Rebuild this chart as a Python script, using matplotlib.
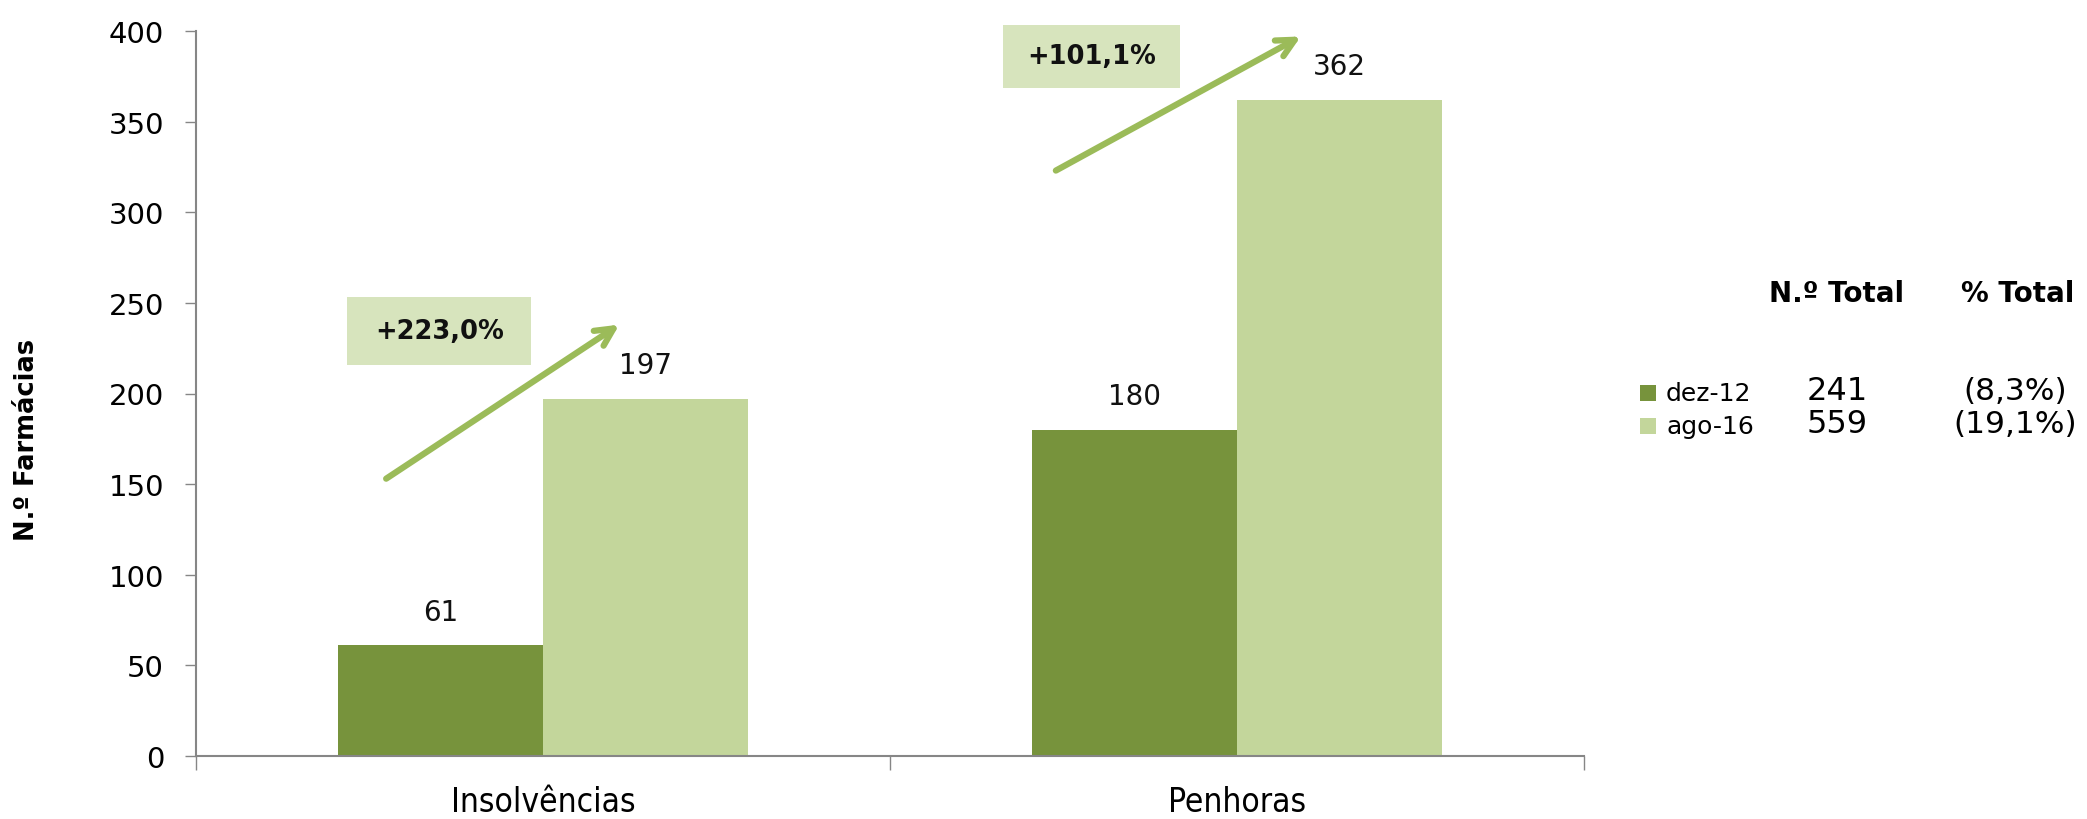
import matplotlib
matplotlib.use("Agg")
import matplotlib.pyplot as plt
from matplotlib.patches import Rectangle
import numpy as np

categories = ['Insolvências', 'Penhoras']
series_labels = ['dez-12', 'ago-16']
dez12 = [61, 180]
ago16 = [197, 362]
totals = [241, 559]
pct_totals = ['(8,3%)', '(19,1%)']
growth = ['+223,0%', '+101,1%']
yticks = [0, 50, 100, 150, 200, 250, 300, 350, 400]

c_dark = '#77933C'
c_light = '#C3D69B'
c_box = '#D7E4BD'
c_arrow = '#9BBB59'
c_axis = '#868686'

W, H = 2087, 820
fig = plt.figure(figsize=(W / 100, H / 100), dpi=100)
ax = fig.add_axes([196 / W, 63 / H, 1388 / W, 725 / H])

x = np.arange(len(categories))
bw = 0.295
b1 = ax.bar(x - bw / 2, dez12, bw, color=c_dark)
b2 = ax.bar(x + bw / 2, ago16, bw, color=c_light)

for bars, vals in ((b1, dez12), (b2, ago16)):
    for r, v in zip(bars, vals):
        ax.annotate(str(v), (r.get_x() + r.get_width() / 2, v), xytext=(0, 14),
                    textcoords='offset points', ha='center', va='bottom',
                    fontsize=20, color='#111111')

ax.set_xlim(-0.5, 1.5)
ax.set_ylim(0, 400)
ax.set_yticks(yticks)
ax.set_yticklabels([str(t) for t in yticks], fontsize=21)
ax.tick_params(axis='y', direction='out', length=8, width=1, color=c_axis, pad=15)
ax.set_xticks([-0.5, 0.5, 1.5])
ax.set_xticklabels([])
ax.tick_params(axis='x', direction='out', length=10, width=1, color=c_axis)
for i, c in enumerate(categories):
    fig.text((196 + 1388 * (i + 0.5) / 2) / W, 1 - 803 / H, c, ha='center', va='center',
             fontsize=24, family=['Liberation Sans Narrow', 'DejaVu Sans'], fontstretch='condensed')
for s in ('top', 'right'):
    ax.spines[s].set_visible(False)
for s in ('left', 'bottom'):
    ax.spines[s].set_color(c_axis)
    ax.spines[s].set_linewidth(1.5)

fig.text(27 / W, 1 - 440 / H, 'N.º Farmácias', rotation=90, ha='center', va='center',
         fontsize=18.5, fontweight='bold', family=['Liberation Sans Narrow', 'DejaVu Sans'])

# growth arrows and boxes
arrows = [((-0.226, 153), (0.110, 238)), ((0.739, 323), (1.092, 397))]
boxes = [(-0.282, 215.7, 0.265, 37.5), (0.663, 368.6, 0.255, 34.7)]
for (s, e), (bx, by, bwid, bh), g in zip(arrows, boxes, growth):
    ax.annotate('', xy=e, xytext=s, annotation_clip=False,
                arrowprops=dict(arrowstyle='->', lw=4.5, color=c_arrow, mutation_scale=32,
                                shrinkA=0, shrinkB=0))
    ax.add_patch(Rectangle((bx, by), bwid, bh, facecolor=c_box, edgecolor='none', clip_on=False))
    ax.text(bx + bwid / 2, by + bh / 2, g, ha='center', va='center', fontsize=18.5,
            fontweight='bold', color='#111111')

# legend-like table
fig.text(1837 / W, 1 - 294 / H, 'N.º Total', ha='center', va='center', fontsize=20, fontweight='bold')
fig.text(2018 / W, 1 - 294 / H, '% Total', ha='center', va='center', fontsize=20, fontweight='bold')
row_y = [394, 427]
for yy, lab, col, tot, pct in zip(row_y, series_labels, [c_dark, c_light], totals, pct_totals):
    fy = 1 - yy / H
    fig.patches.append(Rectangle((1640 / W, fy - 8 / H), 16 / W, 16 / H, facecolor=col,
                                 edgecolor='none', transform=fig.transFigure, figure=fig))
    fig.text(1666 / W, fy, lab, ha='left', va='center', fontsize=18)
    fig.text(1837 / W, fy + 2 / H, str(tot), ha='center', va='center', fontsize=23)
    fig.text(2015 / W, fy + 2 / H, pct, ha='center', va='center', fontsize=22.5)

fig.savefig('out.png', dpi=100)
